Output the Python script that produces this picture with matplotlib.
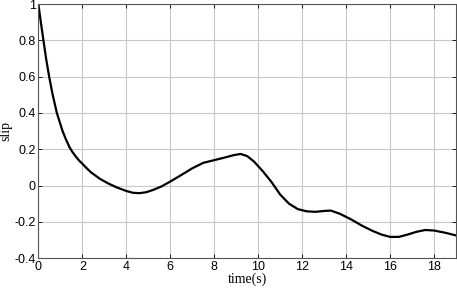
import matplotlib
matplotlib.use("Agg")
import matplotlib.pyplot as plt

# slip response
t = [0, 0.1, 0.23, 0.35, 0.49, 0.65, 0.84, 1.1, 1.25, 1.42, 1.55, 1.7, 1.85, 2.0, 2.2,
     2.4, 2.8, 3.2, 3.6, 4.0, 4.3, 4.6, 4.9, 5.2, 5.6, 6.0, 6.5, 7.0, 7.5, 8.0, 8.5,
     8.9, 9.2, 9.5, 9.8, 10.2, 10.6, 11.0, 11.4, 11.8, 12.2, 12.6, 13.0, 13.3, 13.7,
     14.2, 14.7, 15.2, 15.6, 16.0, 16.4, 16.8, 17.2, 17.6, 18.0, 18.5, 19.0]
slip = [1.0, 0.91, 0.8, 0.7, 0.6, 0.5, 0.4, 0.3, 0.255, 0.21, 0.185, 0.16, 0.138,
        0.12, 0.095, 0.072, 0.037, 0.01, -0.012, -0.03, -0.04, -0.042, -0.037, -0.025,
        -0.005, 0.022, 0.058, 0.095, 0.125, 0.14, 0.155, 0.168, 0.174, 0.162, 0.133,
        0.08, 0.02, -0.05, -0.1, -0.13, -0.142, -0.145, -0.14, -0.138, -0.155, -0.185,
        -0.22, -0.25, -0.27, -0.283, -0.283, -0.27, -0.255, -0.245, -0.248, -0.26,
        -0.275]

xticks = [0, 2, 4, 6, 8, 10, 12, 14, 16, 18]
yticks = [-0.4, -0.2, 0, 0.2, 0.4, 0.6, 0.8, 1]
ytick_labels = ["-0.4", "-0.2", "0", "0.2", "0.4", "0.6", "0.8", "1"]

fig = plt.figure(figsize=(4.57, 2.91), dpi=100)
ax = fig.add_axes([0.084, 0.113, 0.914, 0.873])

ax.plot(t, slip, color="black", linewidth=1.6)

ax.set_xlim(0, 19)
ax.set_ylim(-0.4, 1)
ax.set_xticks(xticks)
ax.set_yticks(yticks)
ax.set_yticklabels(ytick_labels)
ax.grid(True, color="#c8c8c8", linewidth=0.8)
ax.tick_params(direction="in", top=True, right=True, length=3, width=0.6,
               labelsize=9, pad=2)
for lab in ax.get_xticklabels() + ax.get_yticklabels():
    lab.set_family("Liberation Sans")
for side, spine in ax.spines.items():
    spine.set_color("#555555")
    spine.set_linewidth(0.8)

ax.set_xlabel("time(s)", family="Liberation Serif", fontsize=10, labelpad=0)
ax.set_ylabel("slip", family="Liberation Serif", fontsize=10, labelpad=1)

plt.savefig("out.png", dpi=100)
plt.close()
